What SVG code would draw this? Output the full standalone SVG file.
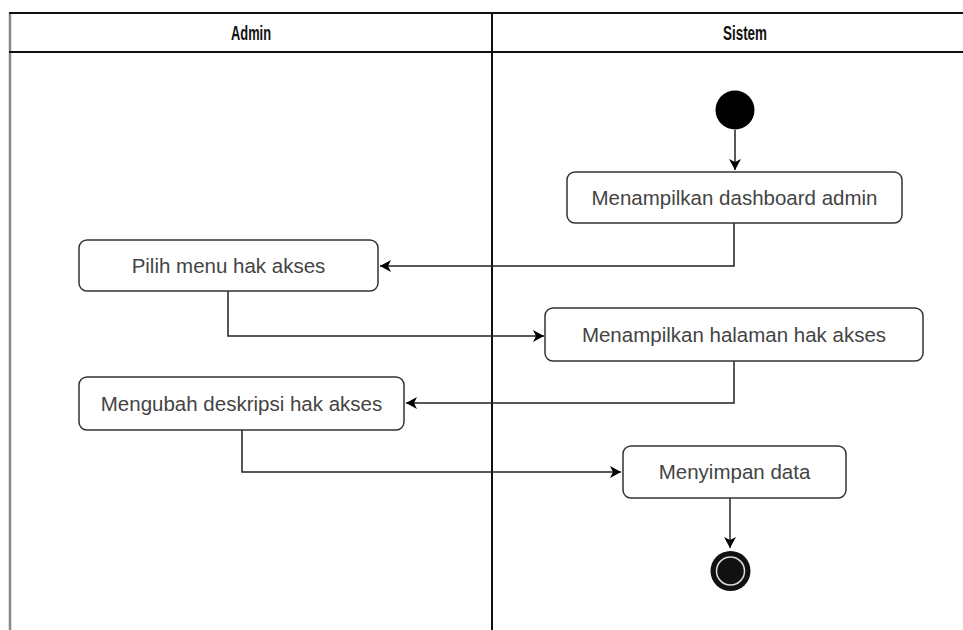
<svg xmlns="http://www.w3.org/2000/svg" width="963" height="630" viewBox="0 0 963 630">
  <defs>
    <style>
      .lane { fill: none; stroke: #111; stroke-width: 2; }
      .laneL { fill: none; stroke: #888; stroke-width: 2.5; }
      .hdr { font-family: "Liberation Sans", Arial, sans-serif; font-size: 20px; font-weight: bold; fill: #111; text-anchor: middle; }
      .box { fill: #fff; stroke: #333; stroke-width: 1.5; }
      .lbl { font-family: "Liberation Sans", Arial, sans-serif; font-size: 20.5px; fill: #444; text-anchor: middle; }
      .edge { fill: none; stroke: #222; stroke-width: 1.5; }
    </style>
    <marker id="arr" markerWidth="12" markerHeight="12" viewBox="0 0 12 12" refX="11" refY="6" orient="auto" markerUnits="userSpaceOnUse">
      <path d="M0,0 L11,6 L0,12 L3,6 Z" fill="#000"/>
    </marker>
  </defs>
  <rect width="963" height="630" fill="#fff"/>

  <g id="lanes">
    <line class="laneL" x1="10" y1="13" x2="10" y2="630"/>
    <line class="lane" x1="9" y1="13" x2="963" y2="13"/>
    <line class="lane" x1="9" y1="52" x2="963" y2="52"/>
    <line class="lane" x1="492" y1="13" x2="492" y2="630" stroke="#444" stroke-width="2.5"/>
    <text class="hdr" x="251" y="40" textLength="40" lengthAdjust="spacingAndGlyphs">Admin</text>
    <text class="hdr" x="745" y="40" textLength="44" lengthAdjust="spacingAndGlyphs">Sistem</text>
  </g>

  <g id="edges">
    <line class="edge" x1="735" y1="130" x2="735" y2="170" marker-end="url(#arr)"/>
    <polyline class="edge" points="734,223 734,266 380,266" marker-end="url(#arr)"/>
    <polyline class="edge" points="228,291 228,336 544,336" marker-end="url(#arr)"/>
    <polyline class="edge" points="734,361 734,403 406,403" marker-end="url(#arr)"/>
    <polyline class="edge" points="242,430 242,472 621,472" marker-end="url(#arr)"/>
    <line class="edge" x1="730" y1="498" x2="730" y2="548" stroke="#777" marker-end="url(#arr)"/>
  </g>

  <g id="start">
    <circle cx="735" cy="110" r="19.5" fill="#000"/>
  </g>

  <g id="n1">
    <rect class="box" x="567" y="172" width="335" height="51" rx="8"/>
    <text class="lbl" x="734.5" y="205">Menampilkan dashboard admin</text>
  </g>

  <g id="n2">
    <rect class="box" x="79" y="240" width="299" height="51" rx="8"/>
    <text class="lbl" x="228.5" y="273">Pilih menu hak akses</text>
  </g>

  <g id="n3">
    <rect class="box" x="545" y="308" width="378" height="53" rx="8"/>
    <text class="lbl" x="734" y="342">Menampilkan halaman hak akses</text>
  </g>

  <g id="n4">
    <rect class="box" x="79" y="377" width="325" height="53" rx="8"/>
    <text class="lbl" x="241.5" y="411">Mengubah deskripsi hak akses</text>
  </g>

  <g id="n5">
    <rect class="box" x="623" y="446" width="223" height="52" rx="8"/>
    <text class="lbl" x="734.5" y="479">Menyimpan data</text>
  </g>

  <g id="end">
    <circle cx="730.5" cy="571" r="20" fill="#111"/>
    <circle cx="730.5" cy="571" r="14" fill="none" stroke="#ddd" stroke-width="1.5"/>
  </g>
</svg>
